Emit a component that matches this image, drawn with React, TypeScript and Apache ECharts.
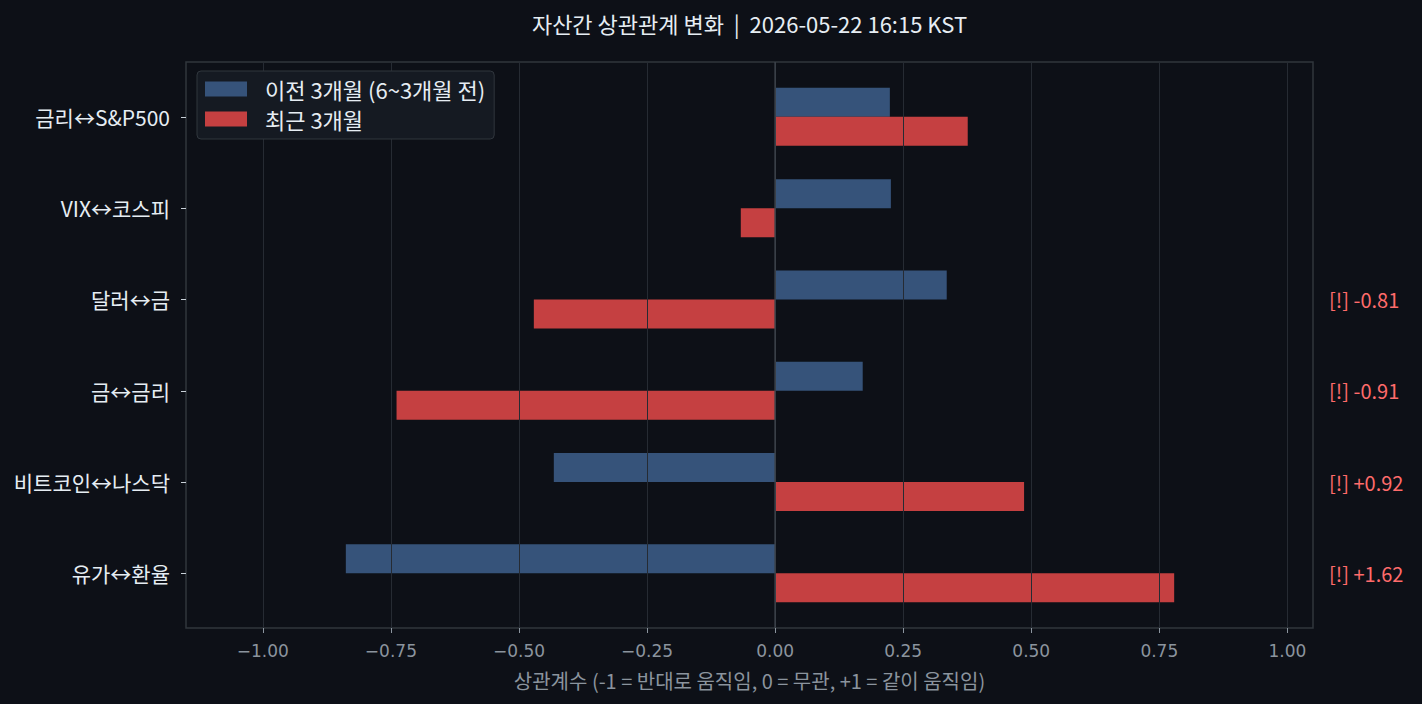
import React, { useEffect, useRef } from "react";
import * as echarts from "echarts";

const categories = ["금리↔S&P500", "VIX↔코스피", "달러↔금", "금↔금리", "비트코인↔나스닥", "유가↔환율"];
const prevValues = [0.224, 0.226, 0.335, 0.171, -0.432, -0.838];
const recentValues = [0.376, -0.067, -0.471, -0.739, 0.486, 0.779];
const alertLabels = ["", "", "[!] -0.81", "[!] -0.91", "[!] +0.92", "[!] +1.62"];
const xTicks = [-1, -0.75, -0.5, -0.25, 0, 0.25, 0.5, 0.75, 1];
const seriesNames = ["이전 3개월 (6~3개월 전)", "최근 3개월"];
const titleText = "자산간 상관관계 변화  |  2026-05-22 16:15 KST";
const xAxisName = "상관계수 (-1 = 반대로 움직임, 0 = 무관, +1 = 같이 움직임)";

const FONT = '"Noto Sans CJK KR", "Noto Sans", sans-serif';
const TICK_FONT = '"DejaVu Sans", "Noto Sans CJK KR", sans-serif';

export default function App() {
  const ref = useRef<HTMLDivElement>(null);
  useEffect(() => {
    document.body.style.margin = "0";
    document.body.style.background = "#0d1017";
    const chart = echarts.init(ref.current!, null, { renderer: "svg" });
    const fmt = (v: number) => (v < 0 ? "\u2212" : "") + Math.abs(v).toFixed(2);
    chart.setOption({
      animation: false,
      backgroundColor: "#0d1017",
      textStyle: { fontFamily: FONT },
      title: {
        text: titleText,
        left: 749.5,
        top: 12,
        padding: 0,
        textAlign: "center",
        textStyle: { color: "#e6edf3", fontSize: 22, fontWeight: "normal", fontFamily: FONT },
      },
      legend: {
        data: seriesNames,
        orient: "vertical",
        left: 197,
        top: 71,
        z: 10,
        itemWidth: 42,
        itemHeight: 15,
        itemGap: 8,
        icon: "rect",
        backgroundColor: "#151a22",
        borderColor: "#30363d",
        borderWidth: 1,
        borderRadius: 4,
        padding: [7, 9, 9, 8],
        selectedMode: false,
        formatter: (name: string) => `{t|${name}}`,
        textStyle: {
          color: "#e6edf3",
          fontSize: 22,
          fontFamily: FONT,
          rich: { t: { padding: [0, 0, 0, 13], fontSize: 22, lineHeight: 22, color: "#e6edf3", fontFamily: FONT } },
        },
      },
      grid: [
        { left: 186, top: 62, width: 1127, height: 566, show: true, borderColor: "#30363d", borderWidth: 1.5, backgroundColor: "transparent" },
        { left: 186, top: 71.2, width: 1127, height: 547.8 },
      ],
      xAxis: [
        {
          gridIndex: 0,
          type: "value",
          min: -1.15,
          max: 1.05,
          z: 5,
          axisLine: { show: false },
          axisTick: { show: true, customValues: xTicks, length: 5, lineStyle: { color: "#8b949e" } },
          axisLabel: { customValues: xTicks, formatter: fmt, color: "#8b949e", fontSize: 17, margin: 14, fontFamily: TICK_FONT },
          splitLine: { show: true, lineStyle: { color: "#262b33", width: 1 } },
          name: xAxisName,
          nameLocation: "middle",
          nameGap: 42,
          nameTextStyle: { color: "#8b949e", fontSize: 20, fontFamily: FONT },
        },
        { gridIndex: 1, type: "value", min: -1.15, max: 1.05, show: false },
      ],
      yAxis: [
        { gridIndex: 0, type: "value", min: 0, max: 1, show: false },
        {
          gridIndex: 1,
          type: "category",
          data: categories,
          inverse: true,
          position: "left",
          axisLine: { show: false, onZero: false },
          axisTick: { show: true, length: 5, alignWithLabel: true, lineStyle: { color: "#c9d1d9" } },
          axisLabel: { color: "#e6edf3", fontSize: 21, margin: 16, interval: 0, fontFamily: FONT },
        },
        {
          gridIndex: 1,
          type: "category",
          data: categories,
          inverse: true,
          position: "right",
          axisLine: { show: false, onZero: false },
          axisTick: { show: false },
          splitLine: { show: false },
          axisLabel: {
            formatter: (_v: string, i: number) => alertLabels[i],
            color: "#ff6b6b",
            fontSize: 20,
            margin: 16,
            interval: 0,
            fontFamily: FONT,
          },
        },
      ],
      series: [
        {
          name: seriesNames[0],
          type: "bar",
          xAxisIndex: 1,
          yAxisIndex: 1,
          data: prevValues,
          barWidth: 29,
          barGap: "0%",
          itemStyle: { color: "#36537a" },
        },
        {
          name: seriesNames[1],
          type: "bar",
          xAxisIndex: 1,
          yAxisIndex: 1,
          data: recentValues,
          barWidth: 29,
          barGap: "0%",
          itemStyle: { color: "#c54041" },
        },
        {
          type: "line",
          xAxisIndex: 0,
          yAxisIndex: 0,
          data: [[0, 0], [0, 1]],
          symbol: "none",
          silent: true,
          z: 6,
          lineStyle: { color: "#3d434b", width: 1.5 },
        },
      ],
    });
    return () => chart.dispose();
  }, []);
  return <div ref={ref} style={{ width: 1422, height: 704 }} />;
}
